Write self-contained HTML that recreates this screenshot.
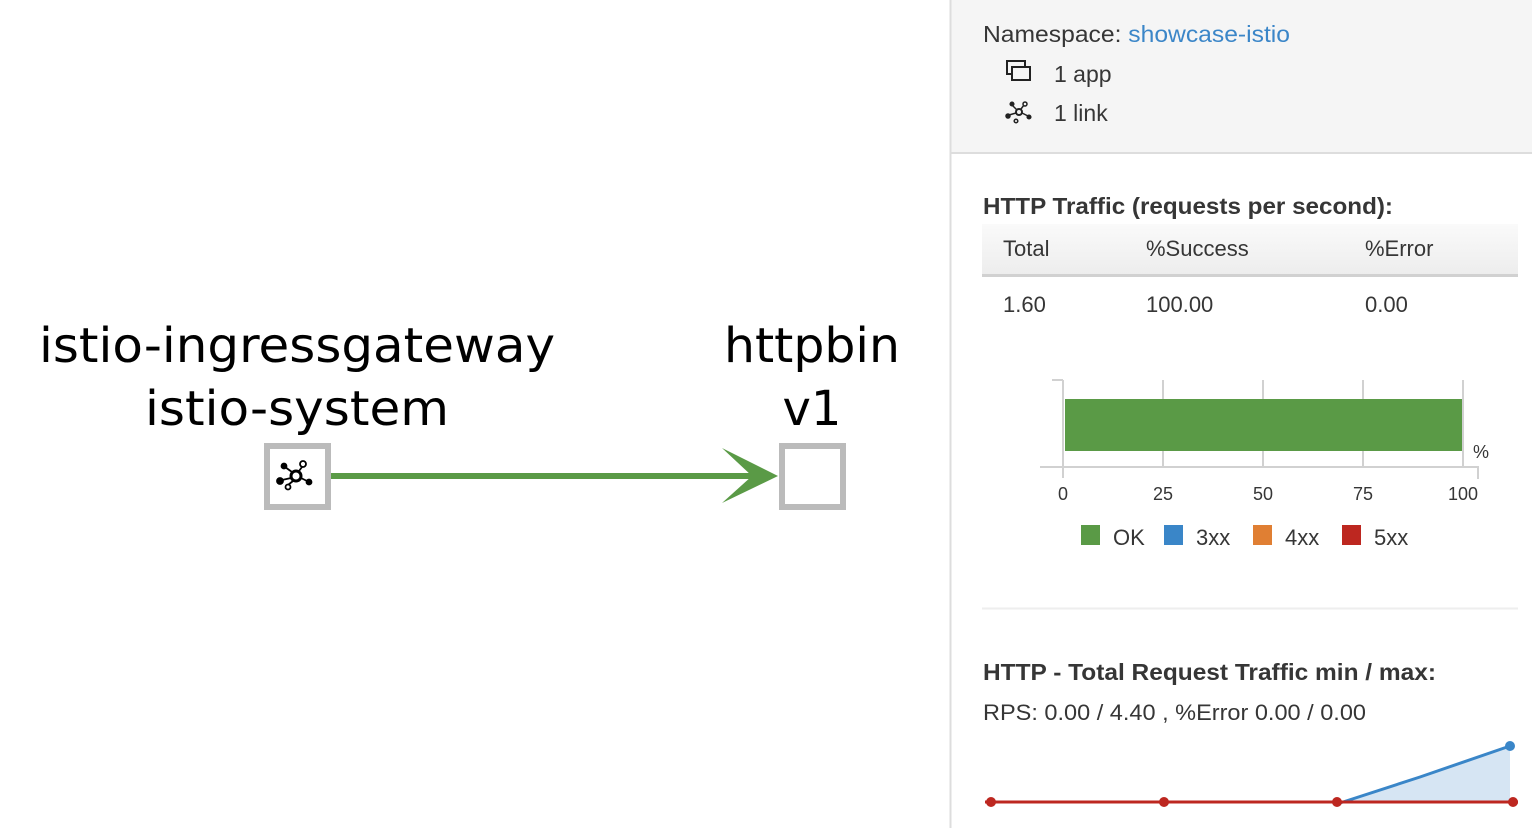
<!DOCTYPE html>
<html><head><meta charset="utf-8"><style>
html,body{margin:0;padding:0;width:1532px;height:828px;overflow:hidden;background:#fff;font-family:"Liberation Sans",sans-serif}
</style></head><body>
<svg width="1532" height="828" viewBox="0 0 1532 828" xmlns="http://www.w3.org/2000/svg" style="position:absolute;left:0;top:0">
<defs>
<linearGradient id="hg" x1="0" y1="0" x2="0" y2="1"><stop offset="0" stop-color="#fafafa"/><stop offset="1" stop-color="#ededed"/></linearGradient>
</defs>
<g font-family="DejaVu Sans, sans-serif" font-size="48" fill="#000" text-anchor="middle">
<text x="297" y="362" textLength="516" lengthAdjust="spacingAndGlyphs">istio-ingressgateway</text>
<text x="297" y="425" textLength="304" lengthAdjust="spacingAndGlyphs">istio-system</text>
<text x="812" y="362" textLength="176" lengthAdjust="spacingAndGlyphs">httpbin</text>
<text x="812" y="425">v1</text>
</g>
<line x1="331" y1="476" x2="758" y2="476" stroke="#5a9a46" stroke-width="6"/>
<polygon points="778,476 722,448 752,476 722,503" fill="#5a9a46"/>
<rect x="267" y="446" width="61" height="61" fill="#fff" stroke="#bbb" stroke-width="6"/>
<rect x="782" y="446" width="61" height="61" fill="#fff" stroke="#bbb" stroke-width="6"/>
<g stroke="#000" stroke-width="1.8" fill="#000">
<circle cx="296" cy="476" r="5" fill="none" stroke-width="3"/>
<line x1="292" y1="472" x2="285" y2="467"/><circle cx="284" cy="466" r="2.5"/>
<line x1="291" y1="478" x2="282" y2="480"/><circle cx="280" cy="481" r="3"/>
<line x1="299" y1="471" x2="302" y2="467"/><circle cx="303" cy="464" r="3" fill="#fff"/>
<line x1="301" y1="478" x2="307" y2="481"/><circle cx="309" cy="482" r="2.5"/>
<line x1="293" y1="481" x2="288" y2="485"/><circle cx="288" cy="487" r="2.5" fill="#fff"/>
</g>
<rect x="951" y="0" width="581" height="153" fill="#f5f5f5"/>
<line x1="950.5" y1="0" x2="950.5" y2="828" stroke="#ddd" stroke-width="2"/>
<line x1="951" y1="153" x2="1532" y2="153" stroke="#ddd" stroke-width="2"/>
<g font-family="Liberation Sans, sans-serif" fill="#363636" font-size="23">
<text x="983" y="42" textLength="307" lengthAdjust="spacingAndGlyphs">Namespace: <tspan fill="#3b86c8">showcase-istio</tspan></text>
<text x="1054" y="82">1 app</text>
<text x="1054" y="121">1 link</text>
</g>
<g fill="none" stroke="#222" stroke-width="2">
<rect x="1007" y="61" width="18" height="13"/><rect x="1012" y="67" width="18" height="13" fill="#f5f5f5"/>
</g>
<g stroke="#222" stroke-width="1.5" fill="#222">
<circle cx="1019" cy="112" r="3" fill="none" stroke-width="2"/>
<line x1="1017" y1="110" x2="1012" y2="105"/><circle cx="1012" cy="104" r="1.8"/>
<line x1="1016" y1="113" x2="1009" y2="115"/><circle cx="1008" cy="116" r="2"/>
<line x1="1021" y1="109" x2="1024" y2="105"/><circle cx="1025" cy="104" r="2" fill="#f5f5f5"/>
<line x1="1022" y1="113" x2="1028" y2="116"/><circle cx="1029" cy="117" r="1.8"/>
<circle cx="1016" cy="121" r="1.8" fill="#f5f5f5"/>
</g>
<text x="983" y="214" font-family="Liberation Sans, sans-serif" font-weight="bold" font-size="23" fill="#363636" textLength="410" lengthAdjust="spacingAndGlyphs">HTTP Traffic (requests per second):</text>
<rect x="982" y="224" width="536" height="50" fill="url(#hg)"/>
<rect x="982" y="274" width="536" height="3" fill="#d1d1d1"/>
<g font-family="Liberation Sans, sans-serif" font-size="22" fill="#363636">
<text x="1003" y="256">Total</text><text x="1146" y="256">%Success</text><text x="1365" y="256">%Error</text>
<text x="1003" y="312">1.60</text><text x="1146" y="312">100.00</text><text x="1365" y="312">0.00</text>
</g>
<g stroke="#d1d1d1" stroke-width="2">
<line x1="1052" y1="380" x2="1063" y2="380"/>
<line x1="1063" y1="380" x2="1063" y2="478"/>
<line x1="1163" y1="380" x2="1163" y2="467"/>
<line x1="1263" y1="380" x2="1263" y2="467"/>
<line x1="1363" y1="380" x2="1363" y2="467"/>
<line x1="1463" y1="380" x2="1463" y2="467"/>
<line x1="1040" y1="467" x2="1479" y2="467"/>
<line x1="1478" y1="467" x2="1478" y2="479"/>
</g>
<rect x="1065" y="399" width="397" height="52" fill="#5a9a46"/>
<g font-family="Liberation Sans, sans-serif" font-size="18" fill="#363636" text-anchor="middle">
<text x="1063" y="500">0</text><text x="1163" y="500">25</text><text x="1263" y="500">50</text><text x="1363" y="500">75</text><text x="1463" y="500">100</text>
<text x="1481" y="458">%</text>
</g>
<rect x="1081" y="525" width="19" height="20" fill="#5a9a46"/>
<rect x="1164" y="525" width="19" height="20" fill="#3a86c8"/>
<rect x="1253" y="525" width="19" height="20" fill="#e07f33"/>
<rect x="1342" y="525" width="19" height="20" fill="#bd2720"/>
<g font-family="Liberation Sans, sans-serif" font-size="22" fill="#363636">
<text x="1113" y="545">OK</text><text x="1196" y="545">3xx</text><text x="1285" y="545">4xx</text><text x="1374" y="545">5xx</text>
</g>
<line x1="982" y1="608.5" x2="1518" y2="608.5" stroke="#eee" stroke-width="2"/>
<text x="983" y="680" font-family="Liberation Sans, sans-serif" font-weight="bold" font-size="23" fill="#363636" textLength="453" lengthAdjust="spacingAndGlyphs">HTTP - Total Request Traffic min / max:</text>
<text x="983" y="720" font-family="Liberation Sans, sans-serif" font-size="22" fill="#363636" textLength="383" lengthAdjust="spacingAndGlyphs">RPS: 0.00 / 4.40 , %Error 0.00 / 0.00</text>
<polygon points="1340,803 1420,778 1510,746 1510,803" fill="#d6e5f3"/>
<polyline points="1340,803 1420,777 1510,746" fill="none" stroke="#3a86c8" stroke-width="3"/>
<circle cx="1510" cy="746" r="5" fill="#3a86c8"/>
<line x1="985" y1="802" x2="1518" y2="802" stroke="#bd2720" stroke-width="3"/>
<g fill="#bd2720"><circle cx="991" cy="802" r="5"/><circle cx="1164" cy="802" r="5"/><circle cx="1337" cy="802" r="5"/><circle cx="1513" cy="802" r="5"/></g>
</svg>
</body></html>
